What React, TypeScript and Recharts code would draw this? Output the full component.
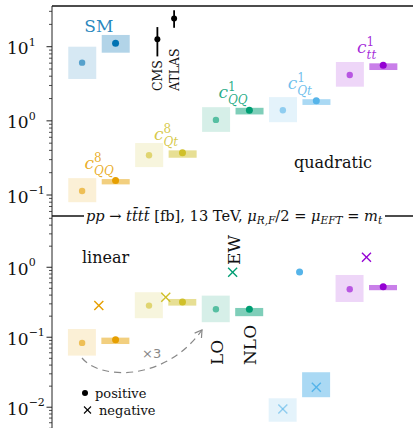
import React from 'react';
import { ComposedChart, Bar, Scatter, ErrorBar, XAxis, YAxis, ReferenceLine } from 'recharts';

const FONT = '"DejaVu Serif", serif';
const AXIS_W = 52;
const CHART_W = 420;
const BOX_W = 28;

// x slots: LO column at slot, NLO column at slot + 1, extra (EW) marker at slot + 0.5
const colors = ['#0072B2', '#E69F00', '#D0C02A', '#009E73', '#56B4E9', '#9400D3'];

// quadratic panel (SM + coefficients)
const quadSup = ['', '8', '8', '1', '1', '1'];
const quadSub = ['', 'QQ', 'Qt', 'QQ', 'Qt', 'tt'];
const quadSlot = [0, 0, 2, 4, 6, 8];
const quadLO = [6.1, 0.113, 0.343, 1.03, 1.39, 4.16];
const quadLOlow = [3.67, 0.08, 0.238, 0.71, 0.96, 2.89];
const quadLOhigh = [10.0, 0.169, 0.502, 1.53, 2.09, 6.22];
const quadNLO = [11.1, 0.157, 0.372, 1.39, 1.86, 5.61];
const quadNLOlow = [8.3, 0.139, 0.318, 1.22, 1.64, 4.85];
const quadNLOhigh = [14.4, 0.164, 0.4, 1.5, 1.96, 5.97];

// linear panel (coefficients only, colour index = i + 1)
const linSlot = [0, 2, 4, 6, 8];
const linLO = [0.083, 0.283, 0.251, 0.00945, 0.485];
const linLOlow = [0.0546, 0.187, 0.164, 0.0062, 0.319];
const linLOhigh = [0.131, 0.44, 0.393, 0.0134, 0.776];
const linLOsign = [1, 1, 1, -1, 1];
const linNLO = [0.092, 0.319, 0.251, 0.0193, 0.528];
const linNLOlow = [0.08, 0.283, 0.2, 0.0139, 0.47];
const linNLOhigh = [0.0987, 0.352, 0.262, 0.0316, 0.558];
const linNLOsign = [1, 1, 1, -1, 1];
const linEW = [0.283, 0.373, 0.85, 0.857, 1.39];
const linEWsign = [-1, -1, -1, 1, -1];

// measurements
const expNames = ['CMS', 'ATLAS'];
const expX = [2.25, 2.75];
const expVal = [12.6, 24];
const expErrDown = [5.2, 6];
const expErrUp = [5.8, 7];

const quadMajor = [0.1, 1, 10];
const linMajor = [0.01, 0.1, 1];

const withMinors = (majors: number[], lo: number, hi: number) => {
  const out: number[] = [];
  [majors[0] / 10, ...majors].forEach((m) => {
    for (let k = 1; k <= 9; k++) {
      const v = +(m * k).toPrecision(3);
      if (v >= lo && v <= hi) out.push(v);
    }
  });
  return out;
};

const QUAD_DOMAIN: [number, number] = [0.0521, 35.4];
const LIN_DOMAIN: [number, number] = [0.0034, 5.4];

const quadBoxes = quadSlot.flatMap((s, i) => [
  { x: s, range: [quadLOlow[i], quadLOhigh[i]], c: i, lo: true },
  { x: s + 1, range: [quadNLOlow[i], quadNLOhigh[i]], c: i, lo: false },
]);
const quadPoints = quadSlot.flatMap((s, i) => [
  { x: s, y: quadLO[i], c: i, kind: 'lo', neg: false },
  { x: s + 1, y: quadNLO[i], c: i, kind: 'nlo', neg: false },
]);
const quadLabels = quadSlot.map((s, i) => ({ x: s + 0.5, y: quadNLOhigh[i], c: i }));

const linBoxes = linSlot.flatMap((s, i) => [
  { x: s, range: [linLOlow[i], linLOhigh[i]], c: i + 1, lo: true },
  { x: s + 1, range: [linNLOlow[i], linNLOhigh[i]], c: i + 1, lo: false },
]);
const linPoints = linSlot.flatMap((s, i) => [
  { x: s, y: linLO[i], c: i + 1, kind: 'lo', neg: linLOsign[i] < 0 },
  { x: s + 1, y: linNLO[i], c: i + 1, kind: 'nlo', neg: linNLOsign[i] < 0 },
  { x: s + 0.5, y: linEW[i], c: i + 1, kind: 'ew', neg: linEWsign[i] < 0 },
]);

const expPoints = expNames.map((n, i) => ({ x: expX[i], y: expVal[i], err: [expErrDown[i], expErrUp[i]] }));

const Box = (p: any) => {
  const { x, y, width, height, payload } = p;
  if (x == null || height == null) return null;
  const op = payload.lo ? 0.16 : payload.c === 0 ? 0.3 : 0.5;
  return <rect x={x + width / 2 - BOX_W / 2} y={y} width={BOX_W} height={Math.abs(height)} fill={colors[payload.c]} fillOpacity={op} />;
};

const Marker = (p: any) => {
  const { cx, cy, payload } = p;
  if (cx == null || cy == null) return null;
  const color = colors[payload.c];
  const alpha = payload.kind === 'lo' ? 0.6 : 1;
  if (payload.neg) {
    const s = 4.5;
    return (
      <g stroke={color} strokeOpacity={alpha} strokeWidth={1.4}>
        <line x1={cx - s} y1={cy - s} x2={cx + s} y2={cy + s} />
        <line x1={cx - s} y1={cy + s} x2={cx + s} y2={cy - s} />
      </g>
    );
  }
  return <circle cx={cx} cy={cy} r={payload.kind === 'lo' ? 3.2 : 3.5} fill={color} fillOpacity={alpha} />;
};

const SUB_W: Record<string, number> = { Q: 9.5, t: 4.6 };

const CoefLabel = (p: any) => {
  const { cx, cy, payload } = p;
  const i = payload.c;
  const color = colors[i];
  if (!quadSub[i]) {
    return (
      <text x={cx} y={cy - 3} textAnchor="middle" fontFamily={FONT} fontSize={17} fill={color} fillOpacity={0.85}>
        SM
      </text>
    );
  }
  const subW = quadSub[i].split('').reduce((a, ch) => a + (SUB_W[ch] || 6), 0);
  const left = cx - (9.5 + subW) / 2;
  return (
    <text fontFamily={FONT} fill={color} fillOpacity={0.85}>
      <tspan x={left} y={cy - 10} fontStyle="italic" fontSize={17}>c</tspan>
      <tspan x={left + 9.5} y={cy - 17} fontSize={12}>{quadSup[i]}</tspan>
      <tspan x={left + 9.5} y={cy - 4} fontStyle="italic" fontSize={12}>{quadSub[i]}</tspan>
    </text>
  );
};

const LogTick = (p: any) => {
  const { y, payload } = p;
  const v = payload.value;
  const lg = Math.log10(v);
  const exp = Math.round(lg);
  const major = Math.abs(lg - exp) < 1e-6;
  return (
    <g>
      <line x1={AXIS_W - (major ? 5.5 : 3)} x2={AXIS_W} y1={y} y2={y} stroke="#222" strokeWidth={major ? 1 : 0.8} />
      {major && (
        <text x={7} y={y + 7.5} fontFamily={FONT} fontSize={17} fill="#111">
          10
          <tspan dy={-8.5} fontSize={11}>{exp < 0 ? '\u2212' + -exp : String(exp)}</tspan>
        </text>
      )}
    </g>
  );
};

const Panel: React.FC<{
  top: number; height: number; domain: [number, number]; majors: number[];
  boxes: any[]; points: any[]; labels?: any[]; exp?: boolean;
}> = ({ top, height, domain, majors, boxes, points, labels, exp }) => (
  <div style={{ position: 'absolute', left: 0, top }}>
    <ComposedChart width={CHART_W} height={height} data={boxes} margin={{ top: 6, right: 0, bottom: 0, left: 0 }}>
      <XAxis type="number" dataKey="x" domain={[-0.9, 10.1]} allowDataOverflow hide />
      <YAxis
        type="number" scale="log" domain={domain} allowDataOverflow width={AXIS_W}
        ticks={withMinors(majors, domain[0], domain[1])} interval={0} tickLine={false}
        tick={<LogTick />} axisLine={{ stroke: '#222', strokeWidth: 1 }}
      />
      <ReferenceLine y={domain[1]} stroke="#111" strokeWidth={1.3} ifOverflow="visible" />
      <Bar dataKey="range" isAnimationActive={false} shape={Box} />
      {exp && (
        <Scatter data={expPoints} dataKey="y" isAnimationActive={false}
          shape={(p: any) => <circle cx={p.cx} cy={p.cy} r={3} fill="#000" />}>
          <ErrorBar dataKey="err" direction="y" width={0} stroke="#000" strokeWidth={1.8} />
        </Scatter>
      )}
      <Scatter data={points} dataKey="y" isAnimationActive={false} shape={Marker} />
      {labels && <Scatter data={labels} dataKey="y" isAnimationActive={false} shape={CoefLabel} />}
    </ComposedChart>
  </div>
);

const Rot: React.FC<{ x: number; y: number; size: number; children: React.ReactNode }> = ({ x, y, size, children }) => (
  <text x={x} y={y} transform={`rotate(-90 ${x} ${y})`} fontFamily={FONT} fontSize={size} fill="#111">{children}</text>
);

const Overlay = () => {
  const ax = 202, ay = 330;
  const dir = Math.atan2(52, -37);
  const arm = (d: number) => [ax + 8 * Math.cos(dir + d), ay + 8 * Math.sin(dir + d)];
  const [l1x, l1y] = arm(0.55);
  const [l2x, l2y] = arm(-0.55);
  return (
    <svg width={413} height={428} style={{ position: 'absolute', left: 0, top: 0, pointerEvents: 'none' }}>
      <rect x={84} y={208} width={301} height={16} fill="#fff" />
      <text x={234} y={221} textAnchor="middle" fontFamily={FONT} fontSize={14.6} fill="#111">
        <tspan fontStyle="italic">pp</tspan> → <tspan fontStyle="italic">{'tt\u0304tt\u0304'}</tspan> [fb], 13 TeV,{' '}
        <tspan fontStyle="italic">μ</tspan><tspan fontSize={10.5} dy={3} fontStyle="italic">R,F</tspan>
        <tspan dy={-3}>/2 = </tspan><tspan fontStyle="italic">μ</tspan>
        <tspan fontSize={10.5} dy={3} fontStyle="italic">EFT</tspan><tspan dy={-3}> = </tspan>
        <tspan fontStyle="italic">m</tspan><tspan fontSize={10.5} dy={3} fontStyle="italic">t</tspan>
      </text>
      <text x={294} y={168} fontFamily={FONT} fontSize={16} fill="#111">quadratic</text>
      <text x={82} y={263} fontFamily={FONT} fontSize={16} fill="#111">linear</text>
      <Rot x={162} y={91} size={12.5}>CMS</Rot>
      <Rot x={178.5} y={91} size={12.5}>ATLAS</Rot>
      <Rot x={222.5} y={365} size={17}>LO</Rot>
      <Rot x={256} y={365} size={17}>NLO</Rot>
      <Rot x={239.5} y={265} size={17}>EW</Rot>
      <circle cx={85} cy={393} r={3} fill="#000" />
      <text x={95} y={398} fontFamily={FONT} fontSize={13} fill="#111">positive</text>
      <g stroke="#000" strokeWidth={1.1}>
        <line x1={84} y1={406.5} x2={91} y2={413.5} />
        <line x1={84} y1={413.5} x2={91} y2={406.5} />
      </g>
      <text x={99} y={415} fontFamily={FONT} fontSize={13} fill="#111">negative</text>
      <path d={`M82,358 C100,380 165,382 ${ax},${ay}`} fill="none" stroke="#888" strokeWidth={1.2} strokeDasharray="7 5" />
      <path d={`M${l1x},${l1y} L${ax},${ay} L${l2x},${l2y}`} fill="none" stroke="#888" strokeWidth={1.2} />
      <text x={142} y={358} fontFamily='"DejaVu Sans", sans-serif' fontSize={13} fill="#888">×3</text>
    </svg>
  );
};

export default function App() {
  return (
    <div style={{ position: 'absolute', left: 0, top: 0, width: 413, height: 428, overflow: 'hidden', background: '#fff' }}>
      <Panel top={0} height={216} domain={QUAD_DOMAIN} majors={quadMajor} boxes={quadBoxes} points={quadPoints} labels={quadLabels} exp />
      <Panel top={210} height={230} domain={LIN_DOMAIN} majors={linMajor} boxes={linBoxes} points={linPoints} />
      <Overlay />
    </div>
  );
}
